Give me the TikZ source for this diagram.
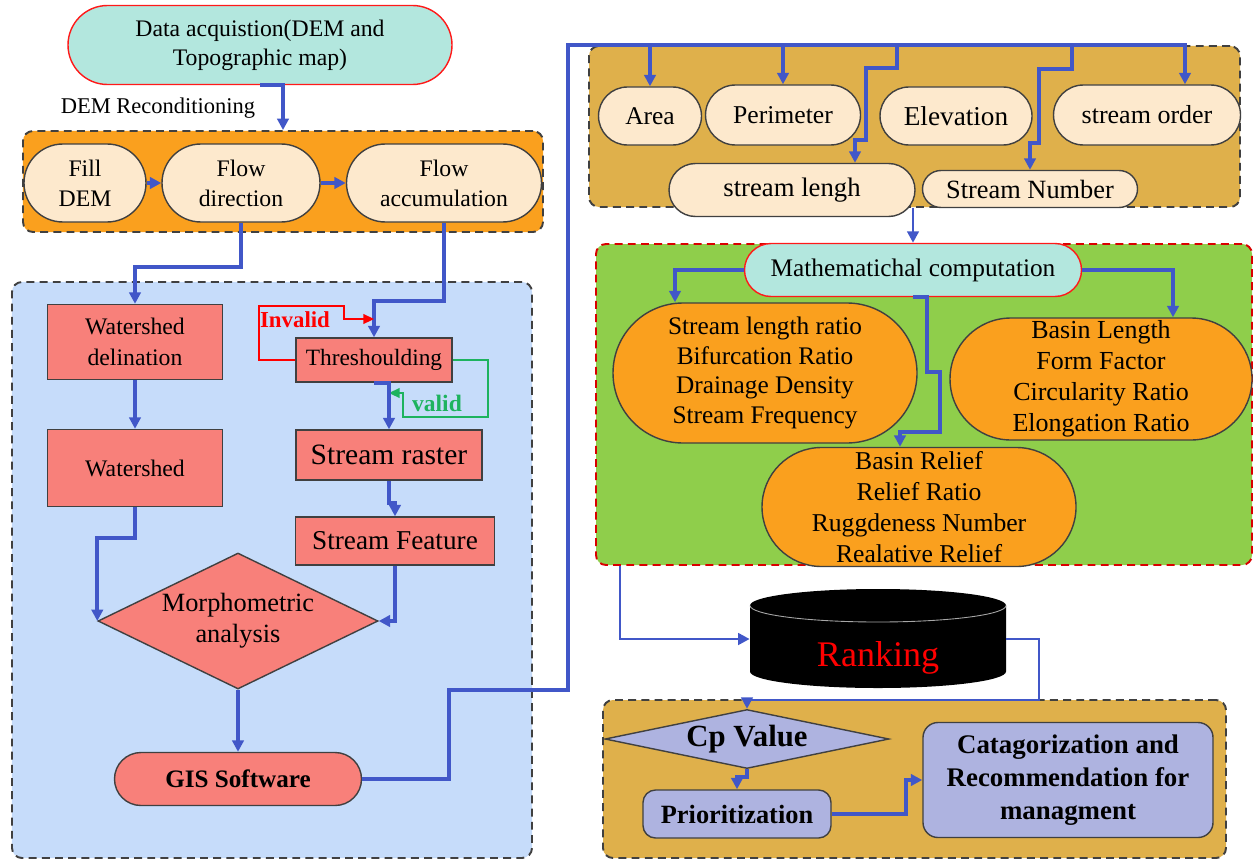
\documentclass[tikz,border=0pt]{standalone}
\usepackage{fontspec}
\setmainfont{Liberation Serif}
\usetikzlibrary{arrows.meta,shapes.geometric}
\definecolor{flowblue}{HTML}{4157C8}
\definecolor{teal1}{HTML}{B3E7DE}
\definecolor{orange1}{HTML}{FAA01E}
\definecolor{bisque1}{HTML}{FDE9CD}
\definecolor{sky1}{HTML}{C6DCFA}
\definecolor{salmon1}{HTML}{F8807A}
\definecolor{tan1}{HTML}{DFB04B}
\definecolor{grass1}{HTML}{8FCE4B}
\definecolor{lav1}{HTML}{AEB3E0}
\definecolor{edge1}{HTML}{404040}
\definecolor{valid1}{HTML}{1DB35E}
\tikzset{
  txt/.style={align=center, text=black, font=\fontsize{14.5}{17.5}\selectfont},
  group/.style={rectangle, draw=edge1, line width=1.1pt, dash pattern=on 4.5pt off 3pt, rounded corners=2mm},
  pill/.style={rectangle, rounded corners=#1, draw=edge1, line width=0.8pt, inner sep=0pt, txt},
  box/.style={rectangle, draw=edge1, line width=0.8pt, fill=salmon1, inner sep=0pt, txt},
  gem/.style={diamond, draw=edge1, line width=0.8pt, inner sep=0pt, txt},
  flow/.style={draw=flowblue, line width=2.2pt, -{Triangle[length=6.5pt,width=6.5pt]}},
  thinflow/.style={flow, line width=1.6pt},
  loopline/.style={line width=1pt, -{Triangle[length=6pt,width=5.5pt]}}
}
\begin{document}
\begin{tikzpicture}[x=0.2mm, y=-0.2mm]
  \useasboundingbox (0,0) rectangle (1255,860);
  \node[group, fill=orange1, minimum width=104mm, minimum height=20.2mm] (Recon) at (283,181.5) {};
  \node[group, fill=sky1, minimum width=104mm, minimum height=115.2mm] (Gis) at (272,570) {};
  \node[group, fill=tan1, minimum width=130.2mm, minimum height=32.2mm] (Par) at (914.5,126.5) {};
  \node[group, fill=grass1, draw=red!85!black, minimum width=131.2mm, minimum height=64.2mm] (MathBox) at (924,404.5) {};
  \node[group, fill=tan1, minimum width=124.6mm, minimum height=31.6mm] (Prio) at (914.5,779) {};

  \node[pill=7.9mm, fill=teal1, draw=red!90, minimum width=76.8mm, minimum height=15.8mm, font=\fontsize{13.5}{16.4}\selectfont] (Data) at (260,45) {Data acquistion(DEM and\\Topographic map)};
  \node[txt, font=\fontsize{12.8}{15}\selectfont] (DemLbl) at (158,108) {DEM Reconditioning};
  \node[pill=7.8mm, fill=bisque1, minimum width=24.4mm, minimum height=15.6mm, font=\fontsize{13.5}{17}\selectfont] (Fill) at (85,183) {Fill\\DEM};
  \node[pill=7.8mm, fill=bisque1, minimum width=31.6mm, minimum height=15.6mm, font=\fontsize{13.5}{17}\selectfont] (Dir) at (241,183) {Flow\\direction};
  \node[pill=7.8mm, fill=bisque1, minimum width=39mm, minimum height=15.6mm, font=\fontsize{13.5}{17}\selectfont] (Acc) at (444,183) {Flow\\accumulation};

  \node[box, minimum width=35mm, minimum height=15mm, font=\fontsize{13.5}{18}\selectfont] (WsDel) at (135,342) {Watershed\\delination};
  \node[box, minimum width=35mm, minimum height=15.4mm, font=\fontsize{13.5}{18}\selectfont] (Ws) at (135,468) {Watershed};
  \node[box, minimum width=31.2mm, minimum height=8.8mm, font=\fontsize{13.3}{16}\selectfont] (Thr) at (374,360) {Threshoulding};
  \node[box, minimum width=37.2mm, minimum height=10mm, font=\fontsize{16.8}{19}\selectfont] (Raster) at (389,455) {Stream raster};
  \node[box, minimum width=39.8mm, minimum height=9.6mm, font=\fontsize{15.5}{18}\selectfont] (Feat) at (395,541) {Stream Feature};
  \node[gem, fill=salmon1, aspect=2.1, minimum width=56mm, minimum height=27.2mm, font=\fontsize{15}{17.6}\selectfont] (Morph) at (238,621) {Morphometric\\analysis};
  \node[pill=5.3mm, fill=salmon1, minimum width=49.4mm, minimum height=10.6mm, font=\bfseries\fontsize{14.3}{17}\selectfont] (Soft) at (238,779) {GIS Software};

  \node[pill=5.8mm, fill=bisque1, minimum width=20.6mm, minimum height=11.6mm, font=\fontsize{14.5}{17}\selectfont] (Area) at (650,116) {Area};
  \node[pill=6mm, fill=bisque1, minimum width=31mm, minimum height=12mm, font=\fontsize{14.6}{17}\selectfont] (Perim) at (783,115) {Perimeter};
  \node[pill=5.8mm, fill=bisque1, minimum width=30.4mm, minimum height=11.6mm, font=\fontsize{15.5}{17}\selectfont] (Elev) at (956,116) {Elevation};
  \node[pill=6mm, fill=bisque1, minimum width=37.4mm, minimum height=12mm, font=\fontsize{14.8}{17}\selectfont] (Order) at (1147,115) {stream order};
  \node[pill=5.3mm, fill=bisque1, minimum width=49.2mm, minimum height=10.6mm, font=\fontsize{15.2}{17}\selectfont] (Len) at (792,190) {stream lengh};
  \node[pill=3.7mm, fill=bisque1, minimum width=43mm, minimum height=7.4mm, font=\fontsize{15}{17}\selectfont] (Num) at (1030,189) {Stream Number};

  \node[pill=5.3mm, fill=teal1, draw=red!90, minimum width=67.4mm, minimum height=10.6mm, font=\fontsize{14.4}{17}\selectfont] (Math) at (913,270) {Mathematichal computation};
  \node[pill=14mm, fill=orange1, minimum width=60.8mm, minimum height=28mm, font=\fontsize{14.4}{17}\selectfont] (Lin) at (765,373) {Stream length ratio\\Bifurcation Ratio\\Drainage Density\\Stream Frequency};
  \node[pill=12.2mm, fill=orange1, minimum width=60.4mm, minimum height=24.4mm, font=\fontsize{14.8}{17.6}\selectfont] (Shape) at (1101,379) {Basin Length\\Form Factor\\Circularity Ratio\\Elongation Ratio};
  \node[pill=11.9mm, fill=orange1, minimum width=62.8mm, minimum height=23.8mm, font=\fontsize{14.6}{17.6}\selectfont] (Relief) at (919,507) {Basin Relief\\Relief Ratio\\Ruggdeness Number\\Realative Relief};

  \fill[black] (750,605.5) -- (750,671.5) arc[start angle=180, end angle=360, x radius=25.6mm, y radius=3.3mm] -- (1006,605.5) arc[start angle=0, end angle=180, x radius=25.6mm, y radius=3.3mm] -- cycle;
  \draw[gray!70, line width=0.5pt] (750,605.5) arc[start angle=180, end angle=360, x radius=25.6mm, y radius=3.3mm];
  \node[minimum width=51.2mm, minimum height=19.8mm, inner sep=0pt] (Rank) at (878,639) {};
  \node[txt, text=red, font=\fontsize{20.5}{24}\selectfont] (RankLbl) at (878,658) {Ranking};

  \node[gem, fill=lav1, aspect=5, minimum width=56.8mm, minimum height=11.8mm, font=\bfseries\fontsize{17.5}{20}\selectfont] (Cp) at (747,739) {Cp Value};
  \node[box, fill=lav1, rounded corners=2.5mm, minimum width=37.6mm, minimum height=9.6mm, font=\bfseries\fontsize{15}{18}\selectfont] (Prior) at (737,814) {Prioritization};
  \node[box, fill=lav1, rounded corners=3mm, minimum width=58mm, minimum height=23mm, font=\bfseries\fontsize{15.3}{18.7}\selectfont] (Cat) at (1068,780) {Catagorization and\\Recommendation for\\managment};

  \draw[flow] (Data.south) -| (Recon.north);
  \draw[flow] (Fill.east) -- (Dir.west);
  \draw[flow] (Dir.east) -- (Acc.west);
  \draw[flow] (Dir.south) -- (Dir.south |- 0,267) -| (WsDel.north);
  \draw[flow] (Acc.south) -- (Acc.south |- 0,301) -| (Thr.north);
  \draw[loopline, red] (Thr.west) -| (259,306) -| (344,319) -- (Thr.north |- 0,319);
  \node[txt, text=red, font=\bfseries\fontsize{13}{15}\selectfont] (Inv) at (295,320) {Invalid};
  \draw[loopline, valid1] (Thr.east) -| (488,417) -| (403,393) -- (Raster.north |- 0,393);
  \node[txt, text=valid1, font=\bfseries\fontsize{13.4}{15}\selectfont] (Val) at (437,403) {valid};
  \draw[flow] (Thr.south) -| (Raster.north);
  \draw[flow] (Raster.south) -- (Raster.south |- 0,503) -| (Feat.north);
  \draw[flow] (WsDel.south) -- (Ws.north);
  \draw[flow] (Ws.south) -- (Ws.south |- 0,538) -| (Morph.west);
  \draw[flow] (Feat.south) |- (Morph.east);
  \draw[flow] (Morph.south) -- (Soft.north);
  \draw[flow] (Soft.east) -| (449,690) -| (568,45) -| ([xshift=7.6mm]Order.north);
  \draw[flow] (Area.north |- 0,45) -- (Area.north);
  \draw[flow] (Perim.north |- 0,45) -- (Perim.north);
  \draw[flow] (897,45) -- (897,68) -- (866,68) -- (866,140) -| ([xshift=12.6mm]Len.north);
  \draw[flow] (1072,45) -- (1072,69) -- (1039,69) -- (1039,143) -| (Num.north);
  \draw[thinflow] (Math.north |- Par.south) -- (Math.north);
  \draw[flow] (Math.west) -| ([xshift=-18mm]Lin.north);
  \draw[flow] (Math.east) -| ([xshift=14.4mm]Shape.north);
  \draw[flow] (Math.south) -| (927,372) -| (940,432) -| ([xshift=-3.8mm]Relief.north);
  \draw[thinflow] ([xshift=5mm]MathBox.south west) |- (Rank.west);
  \draw[thinflow] (Rank.east) -| (1039,700) -| (Cp.north);
  \draw[flow] (Cp.south) -- (Cp.south |- 0,777) -| (Prior.north);
  \draw[flow] (Prior.east) -- (906,814) |- (Cat.west);

\end{tikzpicture}
\end{document}
